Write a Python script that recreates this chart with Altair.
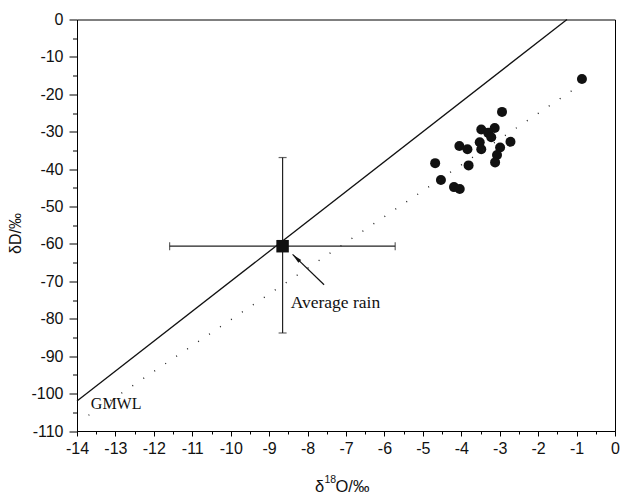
import altair as alt
import pandas as pd

# ---- data ----
d18O = [-0.86, -2.94, -3.48, -3.13, -3.30, -3.22, -2.72, -3.52, -4.05, -3.84,
        -3.48, -2.99, -3.07, -3.12, -4.68, -3.81, -4.53, -4.19, -4.04]
dD = [-15.9, -24.7, -29.4, -29.0, -30.3, -31.5, -32.7, -32.8, -33.8, -34.7,
      -34.7, -34.2, -36.2, -38.2, -38.4, -39.0, -42.9, -44.8, -45.3]

rain_x = [-8.65]
rain_y = [-60.6]
rain_x_err = [-11.59, -5.72]
rain_y_err = [-36.9, -83.8]

gmwl_x = [-14.0, -1.25]
gmwl_y = [-102.0, 0.0]
lmwl_x = [-13.7, -0.9]
lmwl_y = [-105.8, -17.5]

arrow_x = [-7.57, -8.39]
arrow_y = [-70.9, -62.8]

x_ticks = [-14 + 0.5 * i for i in range(29)]
y_ticks = [-110 + 5 * i for i in range(23)]

W, H = 538, 411.5
INK = "#111111"
SANS = "Liberation Sans"
SERIF = "Liberation Serif"

xs = alt.Scale(domain=[-14, 0], nice=False, zero=False)
ys = alt.Scale(domain=[-110, 0], nice=False, zero=False)

x_axis = alt.Axis(
    values=x_ticks, title=None, grid=False,
    labelExpr="datum.value % 1 === 0 ? '' + datum.value : ''",
    tickSize={"condition": {"test": "datum.value % 1 === 0", "value": 5}, "value": 3},
    labelPadding=4, labelOverlap=False, labelFlush=False,
)
y_axis = alt.Axis(
    values=y_ticks, title="δD/‰", grid=False,
    labelExpr="datum.value % 10 === 0 ? '' + datum.value : ''",
    tickSize={"condition": {"test": "datum.value % 10 === 0", "value": 8}, "value": 4.5},
    labelPadding=6, labelOverlap=False, labelFlush=False,
    titleX=-61.5, titleY=213.5, titleAngle=270, titleAlign="center",
    titleBaseline="middle", titleFontSize=16,
)


def X(f):
    return alt.X(f, type="quantitative", scale=xs, axis=x_axis)


def Y(f):
    return alt.Y(f, type="quantitative", scale=ys, axis=y_axis)


pts = pd.DataFrame({"x": d18O, "y": dD})
points = alt.Chart(pts).mark_circle(size=100, color=INK, opacity=1).encode(x=X("x"), y=Y("y"))

gm = pd.DataFrame({"x": gmwl_x, "y": gmwl_y})
gmwl = alt.Chart(gm).mark_line(color=INK, strokeWidth=1.3).encode(x=X("x"), y=Y("y"))
lm = pd.DataFrame({"x": lmwl_x, "y": lmwl_y})
lmwl = alt.Chart(lm).mark_line(color="#222222", strokeWidth=1.4, strokeDash=[1, 12.2]).encode(
    x=X("x"), y=Y("y")
)

rain = pd.DataFrame({"x": rain_x, "y": rain_y,
                     "xlo": [rain_x_err[0]], "xhi": [rain_x_err[1]],
                     "yhi": [rain_y_err[0]], "ylo": [rain_y_err[1]]})
hbar = alt.Chart(rain).mark_rule(color="#222222", strokeWidth=1.2).encode(
    x=X("xlo"), x2="xhi:Q", y=Y("y")
)
vbar = alt.Chart(rain).mark_rule(color="#222222", strokeWidth=1.2).encode(
    x=X("x"), y=Y("yhi"), y2="ylo:Q"
)
caps_df = pd.DataFrame({"x": rain_x_err, "y": rain_y * 2})
hcaps = alt.Chart(caps_df).mark_tick(orient="vertical", size=8, thickness=1.2, color="#222222").encode(
    x=X("x"), y=Y("y")
)
vcaps_df = pd.DataFrame({"x": rain_x * 2, "y": rain_y_err})
vcaps = alt.Chart(vcaps_df).mark_tick(orient="horizontal", size=8, thickness=1.2, color="#222222").encode(
    x=X("x"), y=Y("y")
)
square = alt.Chart(rain).mark_square(size=156, color=INK, opacity=1).encode(x=X("x"), y=Y("y"))

ar = pd.DataFrame({"x": arrow_x, "y": arrow_y})
arrow_line = alt.Chart(ar).mark_line(color=INK, strokeWidth=1.2).encode(x=X("x"), y=Y("y"))
tip = pd.DataFrame({"x": [arrow_x[1]], "y": [arrow_y[1]]})
arrow_head = alt.Chart(tip).mark_point(
    shape="M0,0 L-0.4,2 L0.4,2 Z", size=100, filled=True, color=INK, opacity=1, angle=314
).encode(x=X("x"), y=Y("y"))

labels = pd.DataFrame({"x": [-8.44, -13.64], "y": [-77.1, -104.1],
                       "t": ["Average rain", "GMWL"], "s": [17.5, 16]})
ann = alt.Chart(labels).mark_text(align="left", baseline="alphabetic", font=SERIF, color=INK).encode(
    x=X("x"), y=Y("y"),
    text="t:N", size=alt.Size("s:Q", scale=None, legend=None)
)

# x-axis title built with a real superscript
t_delta = alt.Chart(pd.DataFrame({"t": ["δ"]})).mark_text(
    align="left", baseline="alphabetic", font=SANS, fontSize=16.5, color=INK
).encode(x=alt.value(238), y=alt.value(472.2), text="t:N")
t_sup = alt.Chart(pd.DataFrame({"t": ["18"]})).mark_text(
    align="left", baseline="alphabetic", font=SANS, fontSize=10.5, color=INK
).encode(x=alt.value(247.5), y=alt.value(463.2), text="t:N")
t_rest = alt.Chart(pd.DataFrame({"t": ["O/‰"]})).mark_text(
    align="left", baseline="alphabetic", font=SANS, fontSize=16.5, color=INK
).encode(x=alt.value(258.5), y=alt.value(472.2), text="t:N")

chart = alt.layer(
    points, gmwl, lmwl, hbar, vbar, hcaps, vcaps, square,
    arrow_line, arrow_head, ann, t_delta, t_sup, t_rest
).properties(
    width=W, height=H,
    padding={"left": 77, "top": 19.5, "right": 7, "bottom": 64},
    autosize=alt.AutoSizeParams(type="none"),
    background="white",
).configure_view(
    stroke="#000000", strokeWidth=1
).configure_axis(
    domainColor="#000000", domainWidth=1, tickColor="#000000", tickWidth=1,
    labelFont=SANS, labelFontSize=16, labelColor=INK,
    titleFont=SANS, titleFontWeight="normal", titleColor=INK,
)

chart.save("out.html", embed_options={"renderer": "svg", "actions": False})
